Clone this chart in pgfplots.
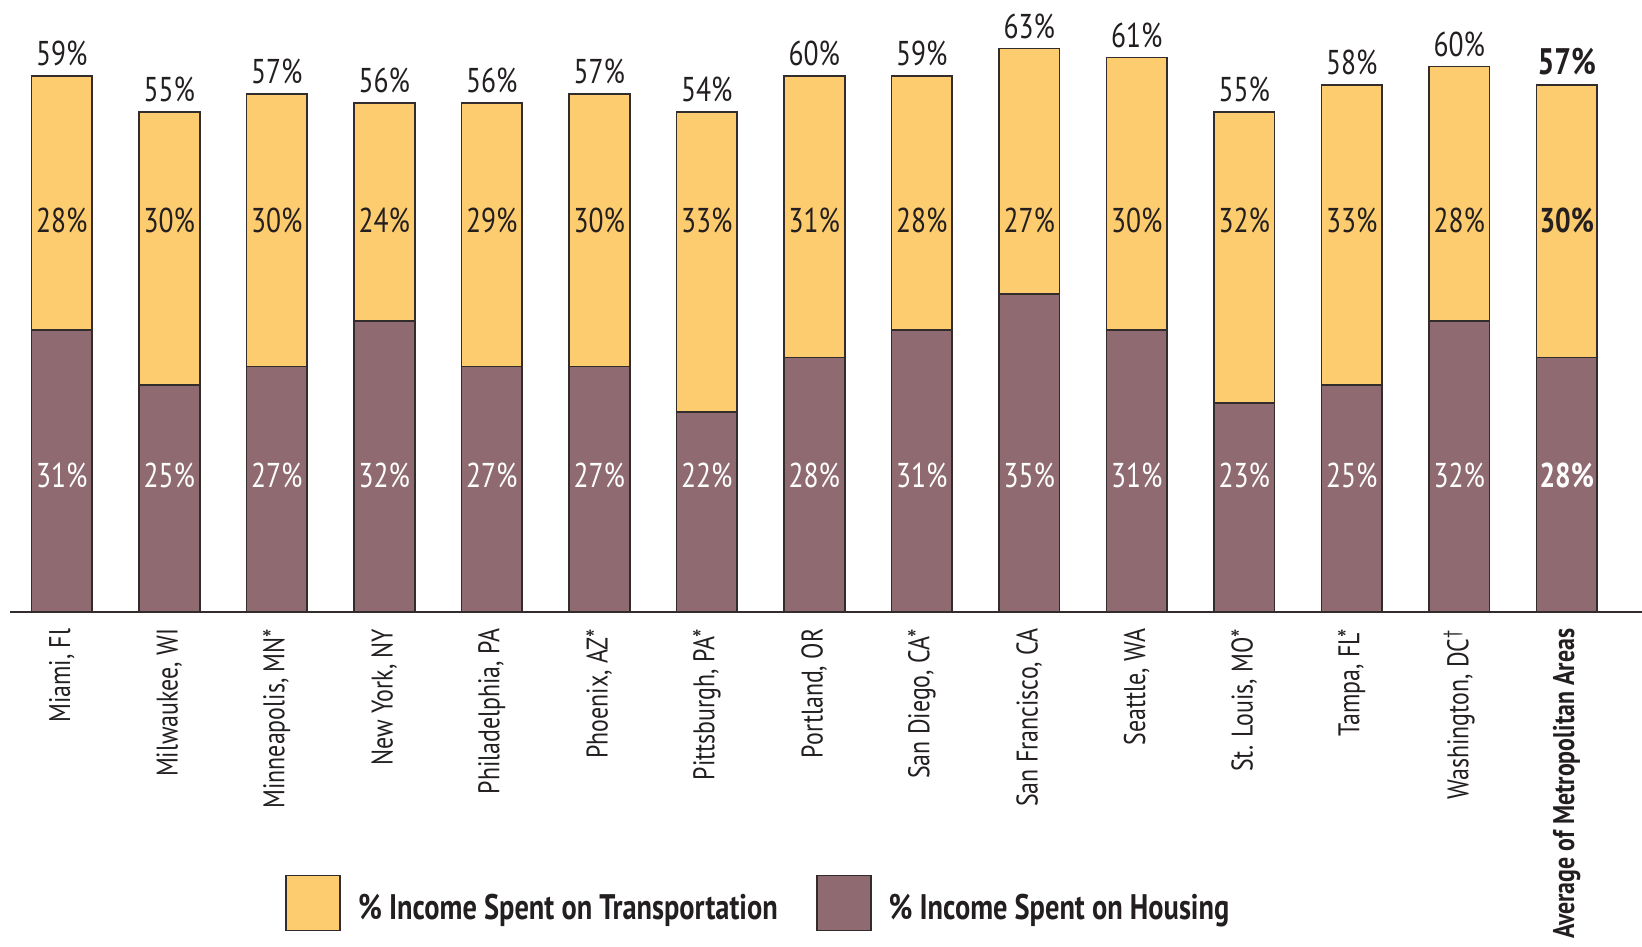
\documentclass[border=0pt]{standalone}
\usepackage{fontspec}
\setmainfont{PT Sans}[FakeStretch=0.8]
\usepackage{pgfplots}
\usepackage{pgfplotstable}
\pgfplotsset{compat=1.18}

\definecolor{transp}{RGB}{253,204,110}
\definecolor{housing}{RGB}{143,107,113}
\definecolor{edge}{RGB}{50,44,44}
\definecolor{ink}{RGB}{35,31,32}

% house / transport shares, and the printed total above each bar
\pgfplotstableread{
x  house trans tot
0  31 28 59
1  25 30 55
2  27 30 57
3  32 24 56
4  27 29 56
5  27 30 57
6  22 33 54
7  28 31 60
8  31 28 59
9  35 27 63
10 31 30 61
11 23 32 55
12 25 33 58
13 32 28 60
14 28 30 57
}\cities

\newcommand\lab{\fontsize{9.8}{11}\selectfont}

\begin{document}
\begin{tikzpicture}
\begin{axis}[
  at={(0.105cm,3.35cm)}, anchor=south west,
  width=16.315cm, height=6.09cm, scale only axis,
  xmin=-0.477, xmax=14.70, ymin=0, ymax=67,
  axis x line=bottom, axis y line=none,
  axis line style={-, draw=edge, line width=0.6pt},
  xtick={0,...,14}, major tick length=0pt,
  xticklabels={{Miami, Fl},{Milwaukee, WI},{Minneapolis, MN*},{New York, NY},
    {Philadelphia, PA},{Phoenix, AZ*},{Pittsburgh, PA*},{Portland, OR},
    {San Diego, CA*},{San Francisco, CA},{Seattle, WA},{St. Louis, MO*},
    {Tampa, FL*},{Washington, DC\textsuperscript{\textdagger}},
    {\textbf{Average of Metropolitan Areas}}},
  xticklabel style={rotate=90, anchor=east, inner sep=0pt, text=ink,
    font=\fontsize{8.5}{10}\selectfont},
  xticklabel shift=0.16cm,
  clip=false,
  legend columns=2,
  legend style={at={(0.168,-0.478)}, anchor=west, draw=none, fill=none,
    inner sep=0pt, text=ink, font=\bfseries\fontsize{10.1}{12}\selectfont,
    nodes={inner sep=0pt, yshift=-0.03cm},
    /tikz/every odd column/.append style={column sep=0.17cm},
    /tikz/every even column/.append style={column sep=0.38cm}},
]
% transport bar drawn full height, housing drawn over its lower part
\addplot[ybar, bar width=0.607cm, bar shift=0pt, fill=transp, draw=edge, line width=0.5pt,
  legend image code/.code={\draw[fill=transp, draw=edge, line width=0.5pt] (0cm,-0.245cm) rectangle (0.54cm,0.305cm);}]
  table[x=x, y expr=\thisrow{house}+\thisrow{trans}] {\cities};
\addlegendentry{\% Income Spent on Transportation}
\addplot[ybar, bar width=0.607cm, bar shift=0pt, fill=housing, draw=edge, line width=0.5pt,
  legend image code/.code={\draw[fill=housing, draw=edge, line width=0.5pt] (0cm,-0.245cm) rectangle (0.54cm,0.305cm);}]
  table[x=x, y=house] {\cities};
\addlegendentry{\% Income Spent on Housing}

% segment labels
\addplot[draw=none, mark=none, forget plot, restrict x to domain=0:13,
  point meta=explicit symbolic, nodes near coords={\pgfplotspointmeta\%},
  every node near coord/.style={anchor=center, inner sep=0pt, text=ink, font=\lab}]
  table[x=x, y expr=43.1, meta=trans] {\cities};
\addplot[draw=none, mark=none, forget plot, restrict x to domain=0:13,
  point meta=explicit symbolic, nodes near coords={\pgfplotspointmeta\%},
  every node near coord/.style={anchor=center, inner sep=0pt, text=white, font=\lab}]
  table[x=x, y expr=15.0, meta=house] {\cities};
\addplot[draw=none, mark=none, forget plot, restrict x to domain=0:13,
  point meta=explicit symbolic, nodes near coords={\pgfplotspointmeta\%},
  every node near coord/.style={anchor=south, inner sep=0pt, yshift=0.09cm, text=ink, font=\lab}]
  table[x=x, y expr=\thisrow{house}+\thisrow{trans}, meta=tot] {\cities};

% average bar labels in bold
\addplot[draw=none, mark=none, forget plot, restrict x to domain=14:14,
  point meta=explicit symbolic, nodes near coords={\textbf{\pgfplotspointmeta\%}},
  every node near coord/.style={anchor=center, inner sep=0pt, text=ink, font=\lab}]
  table[x=x, y expr=43.1, meta=trans] {\cities};
\addplot[draw=none, mark=none, forget plot, restrict x to domain=14:14,
  point meta=explicit symbolic, nodes near coords={\textbf{\pgfplotspointmeta\%}},
  every node near coord/.style={anchor=center, inner sep=0pt, text=white, font=\lab}]
  table[x=x, y expr=15.0, meta=house] {\cities};
\addplot[draw=none, mark=none, forget plot, restrict x to domain=14:14,
  point meta=explicit symbolic, nodes near coords={\textbf{\pgfplotspointmeta\%}},
  every node near coord/.style={anchor=south, inner sep=0pt, yshift=0.09cm, text=ink,
    font=\fontsize{10.5}{12}\selectfont}]
  table[x=x, y expr=\thisrow{house}+\thisrow{trans}, meta=tot] {\cities};
\end{axis}
\pgfresetboundingbox
\path (0,0) rectangle (16.42,9.47);
\end{tikzpicture}
\end{document}
